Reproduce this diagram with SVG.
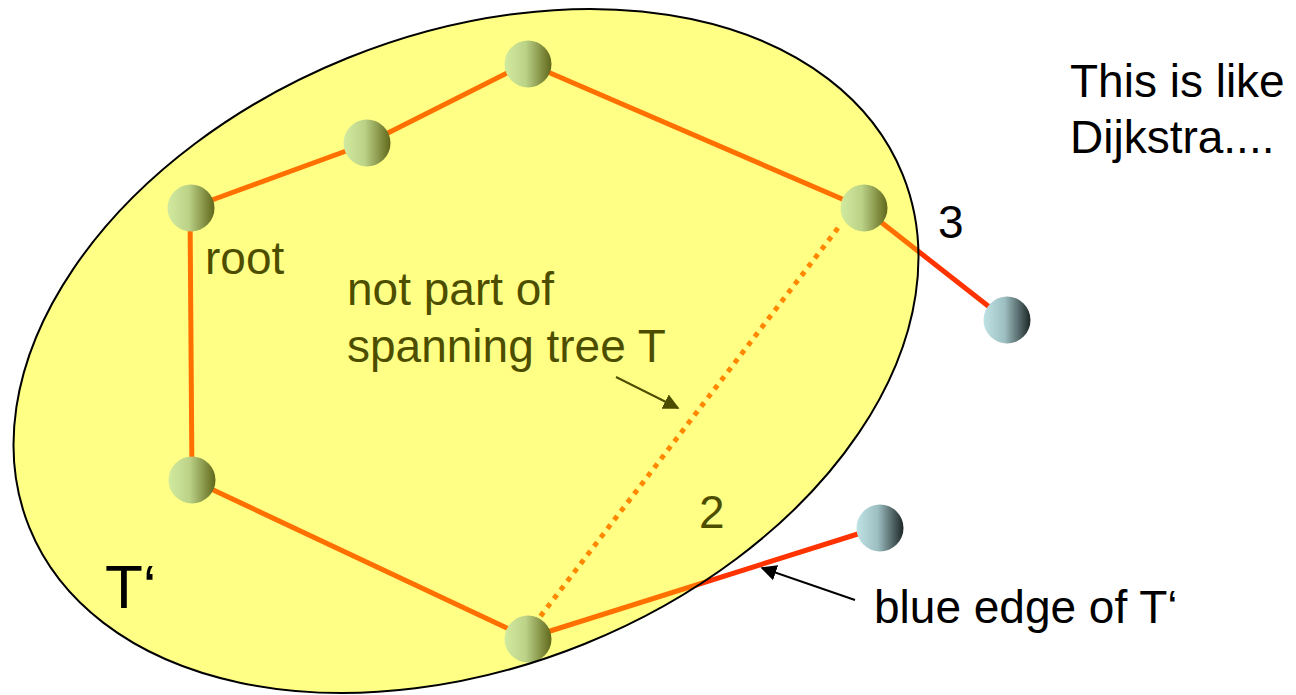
<svg xmlns="http://www.w3.org/2000/svg" width="1296" height="695" viewBox="0 0 1296 695">
<defs>
<linearGradient id="ball" x1="0" y1="0" x2="1" y2="0">
<stop offset="0" stop-color="#bfe2e4"/>
<stop offset="0.45" stop-color="#9ebfc2"/>
<stop offset="1" stop-color="#1c2626"/>
</linearGradient>
<marker id="tri2" viewBox="0 0 10 10" refX="9" refY="5" markerWidth="16" markerHeight="16" orient="auto" markerUnits="userSpaceOnUse">
<path d="M0,0 L10,5 L0,10 z" fill="#000"/>
</marker>
</defs>
<style>
.edge{stroke:#ff3300;stroke-width:5;fill:none;stroke-linecap:round}
.dot{stroke:#ff5500;stroke-width:5;fill:none;stroke-dasharray:5 6}
.ball{fill:url(#ball)}
.t{font-family:"Liberation Sans",Arial,sans-serif;font-size:46px;fill:#000}
</style>
<rect width="1296" height="695" fill="#fff"/>
<ellipse id="region" cx="466" cy="351" rx="471" ry="316" transform="rotate(-22 466 351)" fill="#ffffc0" stroke="none"/>
<g id="connectors">
<line class="edge" x1="190" y1="208" x2="368" y2="143"/>
<line class="edge" x1="368" y1="143" x2="527" y2="63"/>
<line class="edge" x1="527" y1="63" x2="863" y2="208"/>
<line class="edge" x1="190" y1="208" x2="192" y2="480"/>
<line class="edge" x1="192" y1="480" x2="528" y2="638"/>
<line class="edge" x1="528" y1="638" x2="880" y2="527"/>
<line class="edge" x1="863" y1="208" x2="1006" y2="320"/>
<line class="dot" x1="838" y1="228" x2="536" y2="622"/>
<line x1="616" y1="377" x2="678" y2="408" stroke="#000" stroke-width="2" marker-end="url(#tri2)"/>
<line x1="855" y1="600" x2="762" y2="568" stroke="#000" stroke-width="2" marker-end="url(#tri2)"/>
</g>
<g id="n-root"><circle class="ball" cx="191" cy="208" r="23.5"/><text class="t" x="205" y="274">root</text></g>
<g id="n-2"><circle class="ball" cx="367" cy="143" r="23.5"/></g>
<g id="n-3"><circle class="ball" cx="528" cy="64" r="23.5"/></g>
<g id="n-4"><circle class="ball" cx="864" cy="208" r="23.5"/></g>
<g id="n-5"><circle class="ball" cx="192" cy="480" r="23.5"/></g>
<g id="n-6"><circle class="ball" cx="528" cy="639" r="23.5"/></g>
<g id="label-notpart"><text class="t" x="347" y="305">not part of</text><text class="t" x="347" y="362">spanning tree T</text></g>
<g id="label-2"><text class="t" x="699" y="528">2</text></g>
<ellipse id="tint" cx="466" cy="351" rx="471" ry="316" transform="rotate(-22 466 351)" fill="#ffff00" fill-opacity="0.3" stroke="#000" stroke-width="2"/>
<g id="n-out1"><circle class="ball" cx="1007" cy="320" r="23.5"/></g>
<g id="n-out2"><circle class="ball" cx="880" cy="528" r="23.5"/></g>
<g id="labels">
<text class="t" x="938" y="238">3</text>
<text class="t" x="105" y="608" style="font-size:62px">T‘</text>
<text class="t" x="874" y="623">blue edge of T‘</text>
<text class="t" x="1070" y="97">This is like</text>
<text class="t" x="1070" y="153">Dijkstra....</text>
</g>
</svg>
